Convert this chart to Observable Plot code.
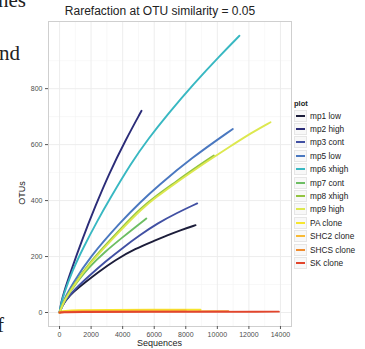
<!DOCTYPE html>
<html><head><meta charset="utf-8">
<script src="https://cdn.jsdelivr.net/npm/d3@7"></script>
<script src="https://cdn.jsdelivr.net/npm/@observablehq/plot@0.6"></script>
<style>
body{margin:0;background:#fff;font-family:"Liberation Sans",Arial,sans-serif;}
#wrap{position:relative;width:365px;height:349px;overflow:hidden;background:#fff;}
#wrap svg{position:absolute;left:0;top:0;}
.abs{position:absolute;white-space:nowrap;}
.serif{font-family:"Liberation Serif","DejaVu Serif",serif;font-size:21px;color:#222;}
#title{left:0;width:320px;text-align:center;top:4px;font-size:12px;color:#222;}
#xlab{left:137px;top:338px;font-size:9px;color:#222;}
#ylab{left:22px;top:193px;font-size:9px;color:#222;transform:translate(-50%,-50%) rotate(-90deg);}
#legend{left:294px;top:99px;font-size:8.3px;color:#222;}
#legend .lt{font-weight:bold;font-size:7.5px;margin-bottom:1px;}
#legend .it{display:flex;align-items:center;height:13.4px;}
#legend .key{width:13px;height:12px;border:1px solid #E6E6E6;background:#F8F8F8;position:relative;margin-right:3px;box-sizing:border-box;}
#legend .key span{position:absolute;left:1px;right:1px;top:4px;height:2px;}
</style></head><body>
<div id="wrap"></div>
<script>
// series names and colours
const seriesNames = ["mp1 low","mp2 high","mp3 cont","mp5 low","mp6 xhigh","mp7 cont","mp8 xhigh","mp9 high","PA clone","SHC2 clone","SHCS clone","SK clone"];
const seriesColors = ["#1C1D3A","#2B2C78","#4150A3","#4A78C0","#38B8C2","#6DBE63","#93C441","#DDE84F","#F6E62E","#F8BA35","#F08C2E","#E2452C"];

// rarefaction curves: sequences (x) and OTUs (y)
const mp1_x = [0,150,400,900,1628,2400,3530,4795,6080,6800,7700,8620];
const mp1_y = [0,22,45,75,108,142,188,228,258,275,295,312];
const mp2_x = [0,100,250,700,1440,2280,3125,4200,5196];
const mp2_y = [0,35,68,145,262,382,495,618,721];
const mp3_x = [0,300,1000,1860,2900,3975,5130,6190,7400,8725];
const mp3_y = [0,40,85,130,182,230,278,318,355,390];
const mp5_x = [0,300,800,1860,3975,5130,6190,8300,10982];
const mp5_y = [0,50,100,195,330,395,450,550,656];
const mp6_x = [0,100,250,800,1500,2470,3100,4580,5640,6800,8510,10200,11400];
const mp6_y = [0,32,62,148,232,335,398,538,622,705,818,920,989];
const mp7_x = [0,300,800,1860,2900,3975,4800,5500];
const mp7_y = [0,44,86,163,218,268,305,336];
const mp8_x = [0,300,800,1860,3975,5130,6190,7240,8300,9780];
const mp8_y = [0,45,90,178,305,372,420,462,505,561];
const mp9_x = [0,300,800,1860,3975,5130,6190,7240,8300,9780,11000,12100,13370];
const mp9_y = [0,43,87,174,300,367,415,458,500,556,600,640,680];
const pa_x = [0,100,300,1000,3000,6000,8935];
const pa_y = [0,4,6,8,9,10,10];
const shc2_x = [0,200,1000,4000,8000];
const shc2_y = [0,3,5,6,7];
const shcs_x = [0,200,1000,5000,10700];
const shcs_y = [0,2,3,4,5];
const sk_x = [0,200,1000,5000,13900];
const sk_y = [0,1,2,2,3];

// axis ticks
const xTicks = [0,2000,4000,6000,8000,10000,12000,14000];
const xMinor = [1000,3000,5000,7000,9000,11000,13000];
const yTicks = [0,200,400,600,800];
const yMinor = [100,300,500,700,900];

const seriesX = [mp1_x,mp2_x,mp3_x,mp5_x,mp6_x,mp7_x,mp8_x,mp9_x,pa_x,shc2_x,shcs_x,sk_x];
const seriesY = [mp1_y,mp2_y,mp3_y,mp5_y,mp6_y,mp7_y,mp8_y,mp9_y,pa_y,shc2_y,shcs_y,sk_y];
const rows = [];
seriesNames.forEach((s,i)=>seriesX[i].forEach((x,j)=>rows.push({series:s,x,y:seriesY[i][j]})));

const chart = Plot.plot({
  width: 365, height: 349,
  marginLeft: 48, marginRight: 74, marginTop: 21, marginBottom: 23,
  style: {fontSize: "7px", fontFamily: "'Liberation Sans', Arial, sans-serif", color: "#4D4D4D", background: "transparent"},
  x: {domain: [-700, 14700], label: null},
  y: {domain: [-50, 1040], label: null},
  color: {domain: seriesNames, range: seriesColors},
  marks: [
    Plot.gridX(xMinor, {stroke: "#F4F4F4", strokeOpacity: 1, strokeWidth: 0.6}),
    Plot.gridY(yMinor, {stroke: "#F4F4F4", strokeOpacity: 1, strokeWidth: 0.6}),
    Plot.gridX(xTicks, {stroke: "#EBEBEB", strokeOpacity: 1, strokeWidth: 0.9}),
    Plot.gridY(yTicks, {stroke: "#EBEBEB", strokeOpacity: 1, strokeWidth: 0.9}),
    Plot.frame({stroke: "#CFCFCF", strokeWidth: 1}),
    Plot.axisX(xTicks, {tickSize: 3, tickPadding: 3, stroke: "#555", fill: "#4D4D4D", fontSize: 7, tickFormat: d => String(d)}),
    Plot.axisY(yTicks, {tickSize: 3, tickPadding: 3, stroke: "#555", fill: "#4D4D4D", fontSize: 7, tickFormat: d => String(d)}),
    Plot.line(rows, {x: "x", y: "y", z: "series", stroke: "series", strokeWidth: 1.9, curve: "basis"})
  ]
});
const wrap = document.getElementById("wrap");
wrap.appendChild(chart);

function addDiv(id, cls, text){const d=document.createElement("div");if(id)d.id=id;d.className=cls;d.textContent=text;wrap.appendChild(d);return d;}
addDiv("title","abs","Rarefaction at OTU similarity = 0.05");
addDiv("xlab","abs","Sequences");
addDiv("ylab","abs","OTUs");
const s1=addDiv(null,"abs serif","nes"); s1.style.left="-2px"; s1.style.top="-12px";
const s2=addDiv(null,"abs serif","nd"); s2.style.left="-1px"; s2.style.top="41px";
const s3=addDiv(null,"abs serif","f"); s3.style.left="-3px"; s3.style.top="313px";

const leg = document.createElement("div"); leg.id="legend"; leg.className="abs";
const lt = document.createElement("div"); lt.className="lt"; lt.textContent="plot"; leg.appendChild(lt);
seriesNames.forEach((s,i)=>{
  const it=document.createElement("div"); it.className="it";
  const k=document.createElement("div"); k.className="key";
  const sp=document.createElement("span"); sp.style.background=chart.scale("color").apply(s); k.appendChild(sp);
  it.appendChild(k);
  const t=document.createElement("span"); t.textContent=s; it.appendChild(t);
  leg.appendChild(it);
});
wrap.appendChild(leg);
</script>
</body></html>
